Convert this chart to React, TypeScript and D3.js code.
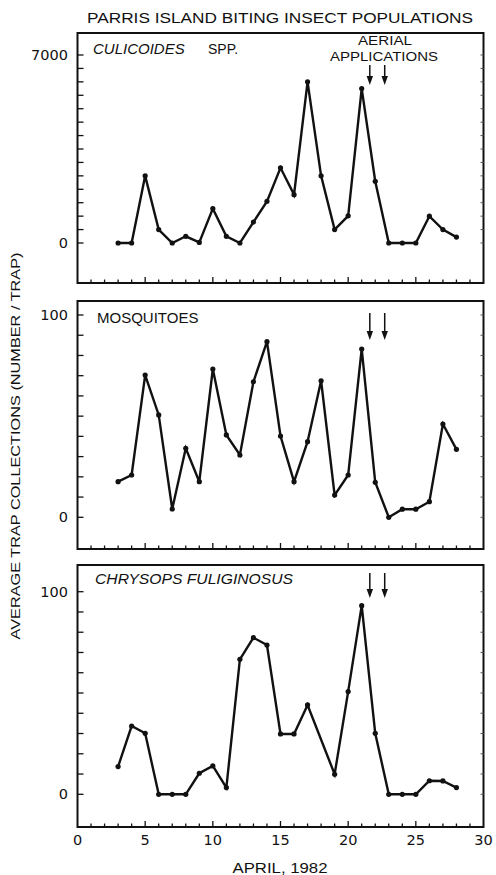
import React from 'react';
import * as d3 from 'd3';

// April 1982 sampling days
const days = [3, 4, 5, 6, 7, 8, 9, 10, 11, 12, 13, 14, 15, 16, 17, 18, 19, 20, 21, 22, 23, 24, 25, 26, 27, 28];

const culicoides = [0, 0, 2500, 500, 0, 250, 20, 1280, 250, 0, 780, 1550, 2800, 1800, 6000, 2500, 500, 1010, 5750, 2300, 0, 0, 0, 1000, 500, 220];
const mosquitoes = [17.6, 20.9, 70.3, 50.6, 4.1, 34.1, 17.6, 73.3, 40.7, 30.8, 67, 86.8, 40.2, 17.6, 37.4, 67.5, 11, 20.9, 83.2, 17.3, 0, 4, 4, 7.7, 46.1, 33.6];
// no chrysops sample on the 18th
const chrysops = [13.7, 33.7, 30.1, 0, 0, 0, 10.4, 14, 3.3, 66.6, 77.3, 73.7, 29.8, 29.8, 44.1, null, 9.9, 50.7, 93.1, 30.1, 0, 0, 0, 6.7, 6.6, 3.3];

const aerialDays = [21.6, 22.7];
const xTicks = [0, 5, 10, 15, 20, 25, 30];

const culTicks = [0, 7000];
const pctTicks = [0, 100];

const FONT = '"Liberation Sans", Arial, sans-serif';
const TICKFONT = '"DejaVu Sans", sans-serif';

const W = 496, H = 875;
const left = 77.5, right = 483.5;

const x = d3.scaleLinear().domain([0, 30]).range([left, right]);

type PanelProps = {
  values: (number | null)[];
  top: number;
  bottom: number;
  y0: number;      // pixel of value 0
  yMax: number;    // pixel of top labelled value
  max: number;
  step: number;
  ticks: number[];
  arrowTop: number;
  arrowBottom: number;
  children?: React.ReactNode;
};

function Panel(props: PanelProps) {
  const { values, top, bottom, y0, yMax, max, step, ticks, arrowTop, arrowBottom } = props;
  const y = d3.scaleLinear().domain([0, max]).range([y0, yMax]);
  const pts = days.map((d, i) => ({ d, v: values[i] })).filter(p => p.v !== null) as { d: number, v: number }[];
  const line = d3.line<{ d: number, v: number }>().x(p => x(p.d)).y(p => y(p.v));
  const minor = d3.range(0, max + step / 2, step);
  const dayTicks = d3.range(1, 30);

  return (
    <g>
      <rect x={left} y={top} width={right - left} height={bottom - top} fill="none" stroke="#111" strokeWidth={2} />
      {minor.map(t => (
        <g key={'yt' + t}>
          <line x1={left} x2={left + 6} y1={y(t)} y2={y(t)} stroke="#111" strokeWidth={1.3} />
          <line x1={right} x2={right - 3} y1={y(t)} y2={y(t)} stroke="#555" strokeWidth={1} />
        </g>
      ))}
      {ticks.map(t => (
        <text key={'yl' + t} x={68} y={y(t) + 5} textAnchor="end" fontFamily={TICKFONT} fontSize={14.5} fill="#111">{t}</text>
      ))}
      {dayTicks.map(t => (
        <line key={'xt' + t} x1={x(t)} x2={x(t)} y1={bottom} y2={bottom - (t % 5 === 0 ? 6 : 3.5)} stroke="#111" strokeWidth={1.3} />
      ))}
      <path d={line(pts) || ''} fill="none" stroke="#111" strokeWidth={2.4} strokeLinejoin="miter" />
      {pts.map(p => (
        <circle key={'c' + p.d} cx={x(p.d)} cy={y(p.v)} r={2.6} fill="#111" />
      ))}
      {aerialDays.map(a => (
        <g key={'a' + a}>
          <line x1={x(a)} x2={x(a)} y1={arrowTop} y2={arrowBottom - 6} stroke="#111" strokeWidth={1.5} />
          <path d={`M${x(a) - 3.2},${arrowBottom - 9} L${x(a) + 3.2},${arrowBottom - 9} L${x(a)},${arrowBottom} Z`} fill="#111" />
        </g>
      ))}
      {props.children}
    </g>
  );
}

export default function App() {
  return (
    <svg width={W} height={H} style={{ position: 'absolute', left: 0, top: 0, background: '#fff' }}>
      <rect width={W} height={H} fill="#fff" />
      <text x={280} y={23} textAnchor="middle" fontFamily={FONT} fontSize={14} textLength={386} lengthAdjust="spacingAndGlyphs" fill="#111">PARRIS ISLAND BITING INSECT POPULATIONS</text>

      <Panel values={culicoides} top={33} bottom={283} y0={243} yMax={55} max={7000} step={500} ticks={culTicks} arrowTop={65} arrowBottom={85}>
        <text x={93} y={54} fontFamily={FONT} fontSize={15} fontStyle="italic" fill="#111">CULICOIDES</text>
        <text x={208} y={54} fontFamily={FONT} fontSize={14} fill="#111">SPP.</text>
        <text x={385} y={44.5} textAnchor="middle" fontFamily={FONT} fontSize={13.5} textLength={54} lengthAdjust="spacingAndGlyphs" fill="#111">AERIAL</text>
        <text x={384} y={61} textAnchor="middle" fontFamily={FONT} fontSize={13.5} textLength={108} lengthAdjust="spacingAndGlyphs" fill="#111">APPLICATIONS</text>
      </Panel>

      <Panel values={mosquitoes} top={301} bottom={549} y0={517.3} yMax={315} max={100} step={10} ticks={pctTicks} arrowTop={313} arrowBottom={340}>
        <text x={97} y={323} fontFamily={FONT} fontSize={15} fill="#111">MOSQUITOES</text>
      </Panel>

      <Panel values={chrysops} top={565} bottom={827} y0={794.3} yMax={591.7} max={100} step={10} ticks={pctTicks} arrowTop={573} arrowBottom={598}>
        <text x={95} y={584} fontFamily={FONT} fontSize={15} fontStyle="italic" textLength={198} lengthAdjust="spacingAndGlyphs" fill="#111">CHRYSOPS  FULIGINOSUS</text>
      </Panel>

      {xTicks.map(t => (
        <text key={'xl' + t} x={x(t)} y={845} textAnchor="middle" fontFamily={TICKFONT} fontSize={14.5} fill="#111">{t}</text>
      ))}
      <text x={280} y={873} textAnchor="middle" fontFamily={FONT} fontSize={14} textLength={95} lengthAdjust="spacingAndGlyphs" fill="#111">APRIL, 1982</text>
      <text transform="translate(20,446) rotate(-90)" textAnchor="middle" fontFamily={FONT} fontSize={13.5} textLength={387} lengthAdjust="spacingAndGlyphs" fill="#111">AVERAGE TRAP COLLECTIONS  (NUMBER / TRAP)</text>
    </svg>
  );
}
